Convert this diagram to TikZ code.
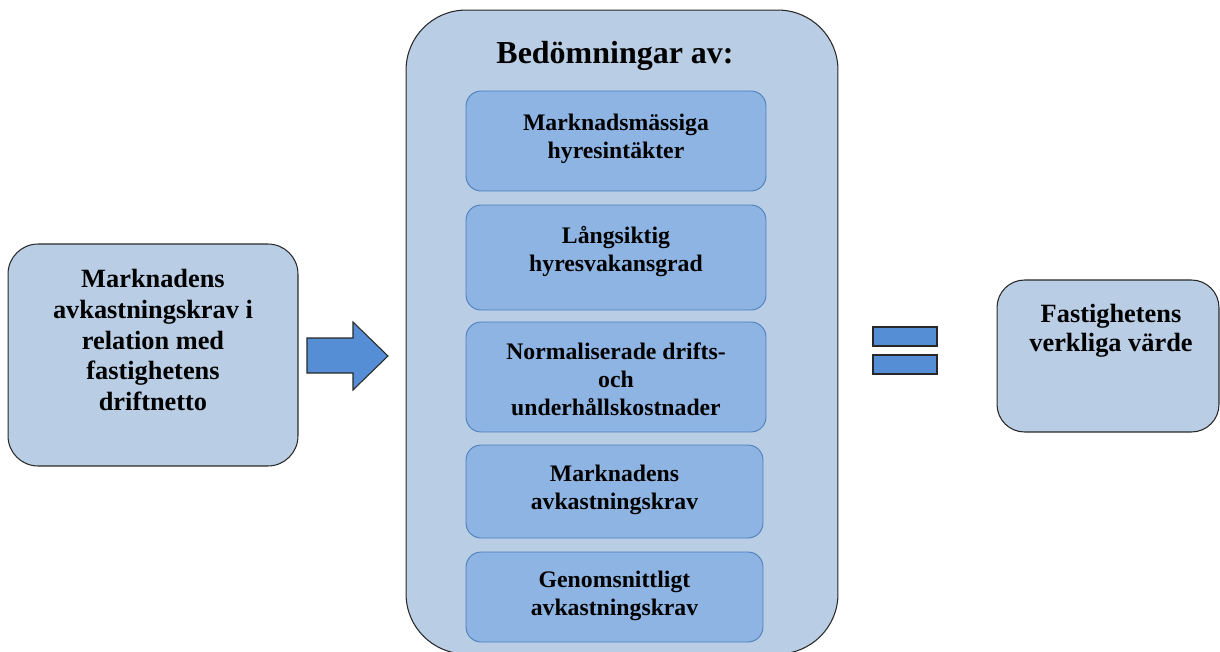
\documentclass[tikz,border=0pt]{standalone}
\usepackage{fontspec}
\setmainfont{Liberation Serif}
\usetikzlibrary{positioning}
\definecolor{paleblue}{RGB}{185,205,229}
\definecolor{midblue}{RGB}{142,180,227}
\definecolor{edgeblue}{RGB}{74,126,187}
\definecolor{arrowblue}{RGB}{85,142,213}
\definecolor{darkedge}{RGB}{40,40,40}

\begin{document}
\begin{tikzpicture}[
    x=0.02cm, y=-0.02cm,
    outer box/.style={draw=darkedge, fill=paleblue, rounded corners=0.6cm,
    line width=0.6pt, inner sep=0pt},
    inner box/.style={draw=edgeblue, fill=midblue, rounded corners=0.3cm,
    line width=0.5pt, inner sep=0pt},
    big text/.style={font=\bfseries\fontsize{15}{17.4}\selectfont, align=center, inner sep=0pt},
    small text/.style={font=\bfseries\fontsize{13.5}{15.9}\selectfont, align=center, inner sep=0pt},
    bar/.style={draw=darkedge, fill=arrowblue, line width=0.6pt,
    minimum width=1.28cm, minimum height=0.38cm, inner sep=0pt}
    ]

\useasboundingbox (0,0) rectangle (1220,652);

\node[outer box, minimum width=5.8cm, minimum height=4.44cm] (source) at (153,355) {};
\node[big text] (sourcetext) at (153,340)
    {Marknadens\\avkastningskrav i\\relation med\\fastighetens\\driftnetto};

\filldraw[draw=darkedge, fill=arrowblue, line width=0.6pt]
    (307,338) -- (353,338) -- (353,322) -- (388,356) -- (353,390)
    -- (353,373) -- (307,373) -- cycle;

\node[outer box, rounded corners=1.2cm, minimum width=8.64cm, minimum height=12.88cm]
    (assess) at (622,332) {};
\node[font=\bfseries\fontsize{18.2}{21}\selectfont, inner sep=0pt] (assesstitle) at (615,56)
    {Bedömningar av:};

\node[inner box, minimum width=6cm, minimum height=2cm] (rent) at (616,141) {};
\node[small text] (renttext) at (616,139) {Marknadsmässiga\\hyresintäkter};

\node[inner box, minimum width=6cm, minimum height=2.1cm] (vacancy) at (616,257.5) {};
\node[small text] (vacancytext) at (616,251.5) {Långsiktig\\hyresvakansgrad};

\node[inner box, minimum width=6cm, minimum height=2.2cm] (costs) at (616,377) {};
\node[small text] (coststext) at (616,379.6)
    {Normaliserade drifts-\\och\\underhållskostnader};

\node[inner box, minimum width=5.94cm, minimum height=1.86cm] (yield) at (614.5,491.5) {};
\node[small text] (yieldtext) at (614.5,489.5) {Marknadens\\avkastningskrav};

\node[inner box, minimum width=5.94cm, minimum height=1.8cm] (average) at (614.5,597) {};
\node[small text] (averagetext) at (614.5,596) {Genomsnittligt\\avkastningskrav};

\node[bar] (eqtop) at (905,336.5) {};
\node[bar] (eqbot) at (905,364.5) {};

\node[outer box, rounded corners=0.55cm, minimum width=4.44cm, minimum height=3.04cm]
    (value) at (1108,356) {};
\node[big text, font=\bfseries\fontsize{15}{16.4}\selectfont] (valuetext) at (1111,331)
    {Fastighetens\\verkliga värde};

\end{tikzpicture}
\end{document}
